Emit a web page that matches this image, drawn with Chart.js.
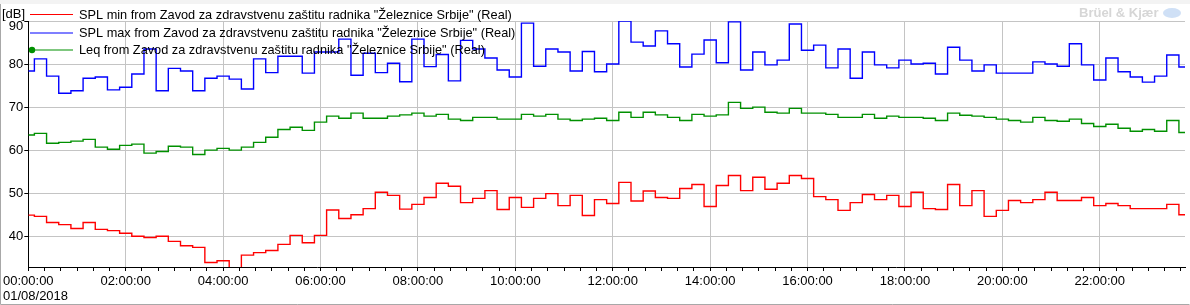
<!DOCTYPE html>
<html>
<head>
<meta charset="utf-8">
<script src="https://cdn.jsdelivr.net/npm/chart.js@4.4.1/dist/chart.umd.min.js"></script>
<style>
    html, body { margin: 0; padding: 0; background: #fff; }
    #wrap { width: 1190px; height: 305px; }
</style>
</head>
<body>
<div id="wrap"><canvas id="noiseChart" width="1190" height="305"></canvas></div>
<script>
// ==========================================
// DATA: 15-minute samples over 01/08/2018
// ==========================================
const SAMPLE_STEP_MIN = 15;
const seriesLabels = [
    'SPL min from Zavod za zdravstvenu zaštitu radnika "Železnice Srbije" (Real)',
    'SPL max from Zavod za zdravstvenu zaštitu radnika "Železnice Srbije" (Real)',
    'Leq from Zavod za zdravstvenu zaštitu radnika "Železnice Srbije" (Real)'
];
const dateLabel = '01/08/2018';
const unitLabel = '[dB]';

const splMin = [
    44.9, 44.6, 43.2, 42.7, 41.8, 43.2, 41.6, 41.3, 40.7, 40.0,
    39.7, 40.0, 38.8, 37.8, 37.4, 33.9, 34.3, 31.5, 35.6, 36.2,
    36.7, 38.1, 40.2, 38.5, 40.2, 46.1, 44.1, 45.0, 46.4, 50.2,
    49.5, 46.3, 47.4, 49.0, 52.3, 51.6, 47.8, 48.8, 50.6, 46.2,
    49.0, 46.7, 48.8, 49.9, 47.1, 49.5, 44.8, 48.5, 47.6, 52.5,
    48.2, 50.5, 49.0, 48.8, 51.1, 52.0, 46.9, 51.8, 54.1, 50.6,
    53.7, 50.9, 52.3, 54.1, 53.4, 49.2, 48.5, 46.0, 47.8, 49.7,
    48.5, 49.5, 46.9, 50.2, 46.4, 46.2, 52.0, 47.1, 50.6, 44.6,
    46.0, 48.3, 47.8, 48.5, 50.2, 48.3, 48.3, 49.0, 47.1, 47.6,
    47.1, 46.4, 46.4, 46.4, 47.4, 45.0
];
const splMax = [
    78.4, 81.2, 77.2, 73.2, 73.8, 76.7, 77.0, 74.0, 74.6, 77.7,
    83.5, 73.8, 79.0, 78.4, 73.8, 76.7, 77.2, 76.5, 74.2, 81.2,
    78.0, 81.8, 81.8, 77.9, 82.8, 82.8, 85.8, 77.4, 82.5, 78.0,
    80.2, 75.9, 85.8, 79.4, 82.2, 76.1, 85.5, 83.5, 81.4, 78.6,
    77.0, 89.5, 79.5, 83.5, 82.8, 78.4, 82.9, 78.2, 80.0, 90.0,
    85.1, 84.2, 87.7, 84.7, 79.3, 82.3, 85.6, 80.3, 89.8, 78.6,
    82.8, 79.8, 80.9, 89.3, 83.2, 84.4, 79.1, 83.5, 76.7, 82.8,
    79.8, 79.1, 80.9, 80.0, 80.2, 77.7, 83.9, 80.9, 78.4, 79.8,
    77.9, 77.9, 77.9, 80.5, 80.0, 79.5, 84.7, 79.8, 76.3, 81.4,
    78.2, 77.0, 75.8, 77.2, 82.1, 79.3
];
const leq = [
    63.5, 63.9, 61.6, 61.8, 62.1, 62.5, 60.7, 60.2, 61.1, 61.4,
    59.3, 59.7, 60.9, 60.7, 59.0, 60.0, 60.4, 60.0, 60.7, 61.8,
    63.0, 64.8, 65.3, 64.6, 66.5, 67.9, 67.4, 68.6, 67.4, 67.4,
    67.9, 68.2, 68.6, 67.9, 68.3, 67.2, 66.9, 67.6, 67.6, 67.2,
    67.2, 68.3, 67.9, 68.3, 67.2, 66.9, 67.2, 67.4, 66.9, 68.8,
    67.6, 68.8, 68.2, 67.6, 66.9, 68.3, 67.9, 68.2, 71.1, 69.7,
    70.0, 68.8, 68.6, 69.7, 68.6, 68.6, 68.3, 67.6, 67.6, 68.3,
    67.4, 67.9, 67.6, 67.6, 67.4, 66.9, 68.6, 68.1, 67.9, 67.6,
    67.2, 66.9, 66.5, 67.6, 66.9, 66.7, 67.2, 66.2, 65.5, 66.0,
    65.1, 64.4, 64.8, 64.4, 66.9, 64.1
];

const yTicks = [40, 50, 60, 70, 80, 90];
const Y_MIN = 32.85, Y_MAX = 90;
const X_MAX_MIN = 1425;          // 23:45
const X_MINOR_MIN = 20;          // minor tick spacing (minutes)
const X_MAJOR_MIN = 120;         // labelled tick spacing (minutes)

const seriesColors = ['#ff0000', '#0000ff', '#009000'];

// ==========================================
// HELPERS
// ==========================================
function toPoints(values) {
    return values.map((v, i) => ({ x: i * SAMPLE_STEP_MIN, y: v }));
}
function fmtClock(min) {
    const h = Math.floor(min / 60);
    return String(h).padStart(2, '0') + ':00:00';
}

const FONT_FAMILY = "'Liberation Sans', Arial, sans-serif";
const TICK_FONT = "13px " + FONT_FAMILY;
const LEGEND_FONT = "12.75px " + FONT_FAMILY;

// Frame, legend, unit, date and watermark drawn around the plot
const decorPlugin = {
    id: 'decor',
    beforeDraw(chart) {
        const ctx = chart.ctx;
        ctx.save();
        ctx.fillStyle = '#f3f3f3';
        ctx.fillRect(0, 0, chart.width, 4);
        ctx.restore();
    },
    afterDraw(chart) {
        const ctx = chart.ctx;
        const yScale = chart.scales.y;
        ctx.save();

        // outer frame
        ctx.strokeStyle = '#a8a8a8';
        ctx.lineWidth = 1;
        ctx.beginPath();
        ctx.moveTo(0.5, 4);
        ctx.lineTo(0.5, chart.height - 0.5);
        ctx.lineTo(chart.width - 0.5, chart.height - 0.5);
        ctx.stroke();

        // watermark
        ctx.font = "bold 13px " + FONT_FAMILY;
        ctx.fillStyle = '#d6d6d6';
        ctx.textBaseline = 'middle';
        ctx.textAlign = 'left';
        ctx.fillText('Brüel & Kjær', 1079, 13);
        ctx.fillStyle = '#cfe0f6';
        ctx.beginPath();
        ctx.ellipse(1172, 13, 9, 5, 0, 0, Math.PI * 2);
        ctx.fill();

        // unit + date
        ctx.fillStyle = '#000';
        ctx.font = TICK_FONT;
        ctx.fillText(unitLabel, 2, 14);
        ctx.fillText(dateLabel, 3, 296);

        // top y label sits just under its grid line, clear of the unit
        ctx.textAlign = 'right';
        ctx.fillText(String(Y_MAX), yScale.right - 5, yScale.getPixelForValue(Y_MAX) + 5);
        ctx.textAlign = 'left';

        // legend over the plot
        const rowsY = [14, 32.5, 49.5];
        ctx.font = LEGEND_FONT;
        chart.data.datasets.forEach((ds, i) => {
            const y = rowsY[i];
            ctx.strokeStyle = ds.borderColor;
            ctx.lineWidth = 1.2;
            ctx.beginPath();
            ctx.moveTo(30, y + 0.5);
            ctx.lineTo(73, y + 0.5);
            ctx.stroke();
            if (i === 2) {
                ctx.fillStyle = ds.borderColor;
                ctx.beginPath();
                ctx.arc(32, y + 0.5, 3.2, 0, Math.PI * 2);
                ctx.fill();
            }
            ctx.fillStyle = '#000';
            ctx.fillText(ds.label, 79, y + 1);
        });
        ctx.restore();
    }
};

// ==========================================
// CHART
// ==========================================
const ctx = document.getElementById('noiseChart').getContext('2d');
const datasetValues = [splMin, splMax, leq];

new Chart(ctx, {
    type: 'line',
    data: {
        datasets: datasetValues.map((vals, i) => ({
            label: seriesLabels[i],
            data: toPoints(vals),
            borderColor: seriesColors[i],
            borderWidth: 1.4,
            stepped: 'middle',
            pointRadius: 0,
            fill: false
        }))
    },
    options: {
        responsive: false,
        animation: false,
        events: [],
        layout: { padding: { top: 21, right: 5, left: 0, bottom: 0 } },
        plugins: { legend: { display: false }, tooltip: { enabled: false } },
        scales: {
            x: {
                type: 'linear',
                min: 0,
                max: X_MAX_MIN,
                afterBuildTicks(scale) {
                    const t = [];
                    for (let m = 0; m <= X_MAX_MIN; m += X_MINOR_MIN) t.push({ value: m });
                    scale.ticks = t;
                },
                afterFit(scale) { scale.height = 38; },
                grid: {
                    color: c => (c.tick && c.tick.value % X_MAJOR_MIN === 0) ? '#c4c4c4' : 'rgba(0,0,0,0)',
                    tickColor: '#000',
                    tickLength: 4,
                    lineWidth: 1
                },
                border: { color: '#000', width: 1 },
                ticks: {
                    autoSkip: false,
                    maxRotation: 0,
                    padding: 3,
                    color: '#000',
                    font: { family: FONT_FAMILY, size: 13 },
                    callback: v => (v % X_MAJOR_MIN === 0 ? fmtClock(v) : '')
                }
            },
            y: {
                min: Y_MIN,
                max: Y_MAX,
                afterBuildTicks(scale) { scale.ticks = yTicks.map(v => ({ value: v })); },
                afterFit(scale) { scale.width = 27; },
                grid: { color: '#c4c4c4', tickColor: '#000', tickLength: 4, lineWidth: 1 },
                border: { color: '#000', width: 1 },
                ticks: {
                    padding: 1,
                    color: '#000',
                    font: { family: FONT_FAMILY, size: 13 },
                    callback: v => (v === Y_MAX ? '' : String(v))
                }
            }
        }
    },
    plugins: [decorPlugin]
});
</script>
</body>
</html>
